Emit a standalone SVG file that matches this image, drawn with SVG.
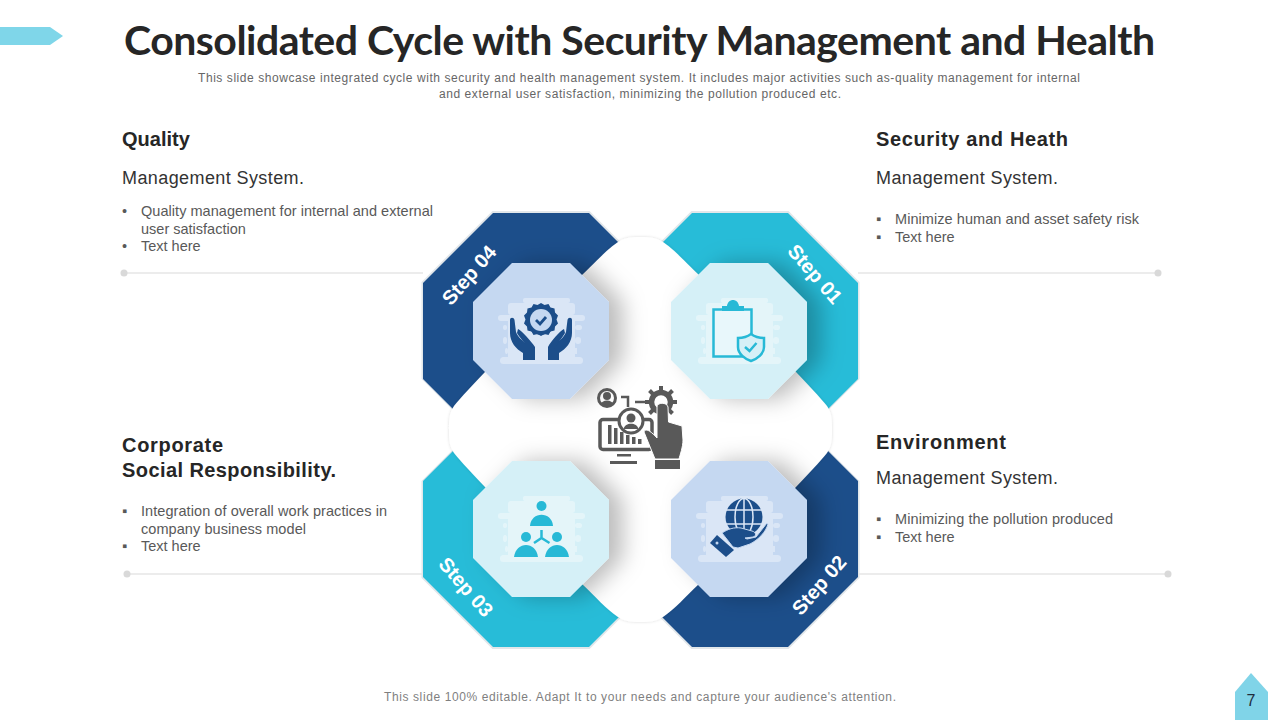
<svg xmlns="http://www.w3.org/2000/svg" width="1280" height="720" viewBox="0 0 1280 720">
<style>
text{font-family:"Liberation Sans",Arial,sans-serif}
.title{font-family:Lato,"Open Sans",sans-serif;font-size:41px;font-weight:700;fill:#262626}
.sub{font-size:12px;fill:#666}
.h{font-size:20px;font-weight:700;fill:#262626}
.m{font-size:18px;fill:#333}
.b{font-size:14.5px;fill:#595959}
.step{font-size:20px;font-weight:700;fill:#fff}
.rule{stroke:#d9d9d9;stroke-width:1.200;fill:none}
.dot{fill:#d9d9d9}
.edge{fill:none;stroke:#e2e7ea;stroke-width:3}
.back{fill:#fff;opacity:.36}
.navy{fill:#1c4e8a}.cyan{fill:#27b9d6}
.g{fill:#595959}
</style>
<defs>
<filter id="sh" x="-40%" y="-40%" width="190%" height="180%"><feDropShadow dx="14" dy="0" stdDeviation="11" flood-color="#000" flood-opacity=".26"/></filter>
<filter id="bl" x="-5%" y="-5%" width="110%" height="110%"><feDropShadow dx="0" dy="0" stdDeviation="1.500" flood-color="#000" flood-opacity=".14"/></filter>
<polygon id="outer" points="-48,-118 48,-118 118,-48 118,48 48,118 -48,118 -118,48 -118,-48"/>
<polygon id="inner" points="-29,-68 29,-68 68,-29 68,29 29,68 -29,68 -68,29 -68,-29"/>
<g id="backdrop" class="back">
<rect x="-18" y="-33" width="47" height="5" rx="2"/>
<rect x="-33" y="-28" width="67" height="12" rx="3"/>
<rect x="-43" y="-16" width="87" height="6" rx="3"/>
<rect x="-33" y="-10" width="67" height="36"/>
<rect x="-38" y="-6" width="4" height="5" rx="2"/><rect x="34" y="-6" width="7" height="5" rx="2.500"/>
<rect x="-38" y="6" width="4" height="7" rx="3"/><rect x="34" y="6" width="6" height="7" rx="3"/>
<rect x="-36" y="17" width="3" height="6" rx="3"/><rect x="34" y="17" width="2" height="6"/>
<rect x="-41" y="26" width="83" height="7" rx="3.500"/>
</g>
</defs>
<rect width="1280" height="720" fill="#fff"/>

<polygon points="0,27 50,27 63,36 50,45 0,45" fill="#7fd6e9"/>
<text class="title" x="124" y="55" textLength="1031" lengthAdjust="spacing">Consolidated Cycle with Security Management and Health</text>
<text class="sub" x="198" y="82" textLength="882">This slide showcase integrated cycle with security and health management system. It includes major activities such as-quality management for internal</text>
<text class="sub" x="439" y="98" textLength="402">and external user satisfaction, minimizing the pollution produced etc.</text>

<g id="connectors">
<path class="rule" d="M124 273H423M858 273H1158M127 574H423M858 574H1168"/>
<circle class="dot" cx="124" cy="273" r="3.500"/><circle class="dot" cx="1158" cy="273" r="3.500"/>
<circle class="dot" cx="127" cy="574" r="3.500"/><circle class="dot" cx="1168" cy="574" r="3.500"/>
</g>

<g id="quality-text">
<text class="h" x="122" y="146">Quality</text>
<text class="m" x="122" y="184" textLength="182">Management System.</text>
<text class="b" x="122" y="216">•</text><text class="b" x="141" y="216" textLength="292">Quality management for internal and external</text>
<text class="b" x="141" y="234">user satisfaction</text>
<text class="b" x="122" y="251">•</text><text class="b" x="141" y="251">Text here</text>
</g>
<g id="security-text">
<text class="h" x="876" y="146" textLength="192">Security and Heath</text>
<text class="m" x="876" y="184" textLength="182">Management System.</text>
<text class="b" x="876" y="224">▪</text><text class="b" x="895" y="224" textLength="244">Minimize human and asset safety risk</text>
<text class="b" x="876" y="242">▪</text><text class="b" x="895" y="242">Text here</text>
</g>
<g id="csr-text">
<text class="h" x="122" y="452" textLength="101">Corporate</text>
<text class="h" x="122" y="477" textLength="214">Social Responsibility.</text>
<text class="b" x="122" y="516">▪</text><text class="b" x="141" y="516" textLength="246">Integration of overall work practices in</text>
<text class="b" x="141" y="534" textLength="165">company business model</text>
<text class="b" x="122" y="551">▪</text><text class="b" x="141" y="551">Text here</text>
</g>
<g id="env-text">
<text class="h" x="876" y="449" textLength="130">Environment</text>
<text class="m" x="876" y="484" textLength="182">Management System.</text>
<text class="b" x="876" y="524">▪</text><text class="b" x="895" y="524" textLength="218">Minimizing the pollution produced</text>
<text class="b" x="876" y="542">▪</text><text class="b" x="895" y="542">Text here</text>
</g>

<g id="bands">
<use href="#outer" x="541.500" y="331" class="edge" transform="translate(-.5 -.5)"/>
<use href="#outer" x="739.500" y="331" class="edge" transform="translate(.5 -.5)"/>
<use href="#outer" x="541.500" y="529" class="edge" transform="translate(-.5 .5)"/>
<use href="#outer" x="739.500" y="529" class="edge" transform="translate(.5 .5)"/>
<use href="#outer" x="541" y="331" fill="#1c4e8a"/>
<use href="#outer" x="740" y="331" fill="#27bcd8"/>
<use href="#outer" x="541" y="529" fill="#27bcd8"/>
<use href="#outer" x="740" y="529" fill="#1c4e8a"/>
</g>

<path id="blob" filter="url(#bl)" fill="#fff" d="M640.500 237C630 237 624 238 618 242C606 250 596 262 582 275L485 372C472 386 462 396 454 406C449 413 449 421 449 429.500C449 438 449 446 454 453C462 463 472 473 485 487L582 584C596 597 606 609 618 617C624 621 630 622 640.500 622C651 622 657 621 663 617C675 609 685 597 699 584L796 487C809 473 819 463 827 453C832 446 832 438 832 429.500C832 421 832 413 827 406C819 396 809 386 796 372L699 275C685 262 675 250 663 242C657 238 651 237 640.500 237Z"/>

<g id="step04">
<use href="#inner" x="541" y="331" fill="#c5d8f1" filter="url(#sh)"/>
<use href="#backdrop" x="541" y="331"/>
<g class="navy">
<circle cx="541" cy="320" r="15"/>
<path d="M541 303l3.500 2 4-1 2 3.500 4 1 .5 4 3 3-1.500 4 1.500 4-3 3-.5 4-4 1-2 3.500-4-1-3.500 2-3.500-2-4 1-2-3.500-4-1-.5-4-3-3 1.500-4-1.500-4 3-3 .5-4 4-1 2-3.500 4 1z"/>
<path d="M510 320C510 317 514 317 514.500 320L516 332C518 338 523 340 527 345L533 351L535 360H523V353C516 349 510 342 510 333ZM572 320C572 317 568 317 567.500 320L566 332C564 338 559 340 555 345L549 351L548 360H559V353C566 349 572 342 572 333Z"/>
<path d="M518 329C522 331 531 341 535 347V360H530V351C526 344 520 338 517 333ZM564 329C560 331 551 341 548 347V360H553V351C557 344 562 338 565 333Z"/>
</g>
<circle cx="541" cy="320" r="11" fill="#c5d8f1"/>
<path d="M536 320l4 4 6-7" fill="none" stroke="#1c4e8a" stroke-width="2.800"/>
<text class="step" transform="translate(469 275) rotate(-49)" text-anchor="middle" dy="7">Step 04</text>
</g>

<g id="step01">
<use href="#inner" x="739" y="331" fill="#d5f0f7" filter="url(#sh)"/>
<use href="#backdrop" x="739" y="331"/>
<rect x="713.500" y="309.500" width="38" height="47" fill="#e8f7fb" stroke="#27b9d6" stroke-width="2.500"/>
<path class="cyan" d="M722 311V306H727C728 298 738 298 739 306H744V311Z"/>
<path d="M751 334C755 337 760 338 764 338V347C764 354 757 359 751 361C745 359 738 354 738 347V338C742 338 747 337 751 334Z" fill="#d5f0f7" stroke="#27b9d6" stroke-width="2.500"/>
<path d="M745 347l4.500 4 7-8" fill="none" stroke="#27b9d6" stroke-width="2.500"/>
<text class="step" transform="translate(815 274) rotate(49)" text-anchor="middle" dy="7">Step 01</text>
</g>

<g id="step03">
<use href="#inner" x="541" y="529" fill="#d5f0f7" filter="url(#sh)"/>
<use href="#backdrop" x="541" y="529"/>
<g class="cyan">
<circle cx="541.500" cy="506" r="5"/>
<path d="M530 526C531 511 552 511 553 526Z"/>
<circle cx="526" cy="537" r="5"/>
<path d="M514 557C516 541 536 541 538 557Z"/>
<circle cx="557" cy="537" r="5"/>
<path d="M545 557C547 541 567 541 569 557Z"/>
</g>
<path d="M541.500 530V538M534 543L541.500 538L549.500 543" fill="none" stroke="#27b9d6" stroke-width="2.500"/>
<text class="step" transform="translate(466 587) rotate(49)" text-anchor="middle" dy="7">Step 03</text>
</g>

<g id="step02">
<use href="#inner" x="739" y="529" fill="#c5d8f1" filter="url(#sh)"/>
<use href="#backdrop" x="739" y="529"/>
<circle class="navy" cx="744" cy="517" r="18.500"/>
<g fill="none" stroke="#dde8f7" stroke-width="1.500">
<ellipse cx="744" cy="517" rx="9" ry="18.500"/>
<path d="M744 498V536M726 510H762M726 524H762"/>
</g>
<path class="navy" d="M722 533C728 529 734 527 741 528L752 531C756 532 757 536 753 537L745 538L747 539L756 537L767 523L768 524C766 532 758 540 750 544L738 548L733 547Z" stroke="#c5d8f1" stroke-width="1"/>
<polygon class="navy" points="717,535 734,550 726,557 710,543"/>
<circle cx="717" cy="543" r="1.500" fill="#c5d8f1"/>
<text class="step" transform="translate(819 585) rotate(-49)" text-anchor="middle" dy="7">Step 02</text>
</g>

<g id="center-icon">
<g fill="none" stroke="#595959" stroke-width="3">
<circle cx="607" cy="398" r="8.500"/>
<rect x="600" y="419.500" width="52" height="30" rx="3" stroke-width="3.500"/>
<path d="M621 397H628V407M635 402H645" stroke-width="2.500"/>
</g>
<circle class="g" cx="607" cy="396" r="4"/><path class="g" d="M600 405C602 399 612 399 614 405Z"/>
<path class="g" d="M608 425h3.500v19h-3.500zM614 428h3.500v16h-3.500zM620 432h3.500v12h-3.500zM626 435h3.500v9h-3.500zM632 437h3.500v7h-3.500zM638 439h3.500v5h-3.500z"/>
<path class="g" d="M617 454h14v2.500h-14zM610 461h27v3h-27z"/>
<circle cx="631" cy="421" r="12" fill="#fff" stroke="#595959" stroke-width="3"/>
<circle class="g" cx="631" cy="418" r="4.500"/><path class="g" d="M623.500 429C625 422 637 422 638.500 429Z"/>
<circle cx="661" cy="402" r="9.500" fill="#fff" stroke="#595959" stroke-width="5.500"/>
<path d="M661 391v-5M661 418v-5M650 402h-5M677 402h-5M653 394l-3.500-3.500M672.500 390.500l-3.500 3.500M653 410l-3.500 3.500M672.500 413.500l-3.500-3.500" stroke="#595959" stroke-width="4" fill="none"/>
<path class="g" d="M657 407C657 402 667 402 668 407L668.500 422L682 426L683 440C683 447 680 455 679 459H655L644 432C645 428 650 430 657 438Z" stroke="#fff" stroke-width="1"/>
<rect class="g" x="655" y="460" width="25" height="9"/>
</g>

<g id="page">
<polygon points="1251,673 1268,692 1268,720 1235,720 1235,692" fill="#80d4e8"/>
<text x="1251" y="706" font-size="16" text-anchor="middle" fill="#1f2d3d">7</text>
</g>
<text x="640" y="701" font-size="12" fill="#7f7f7f" text-anchor="middle" textLength="512">This slide 100% editable. Adapt  It to your needs and capture your audience's attention.</text>
</svg>
